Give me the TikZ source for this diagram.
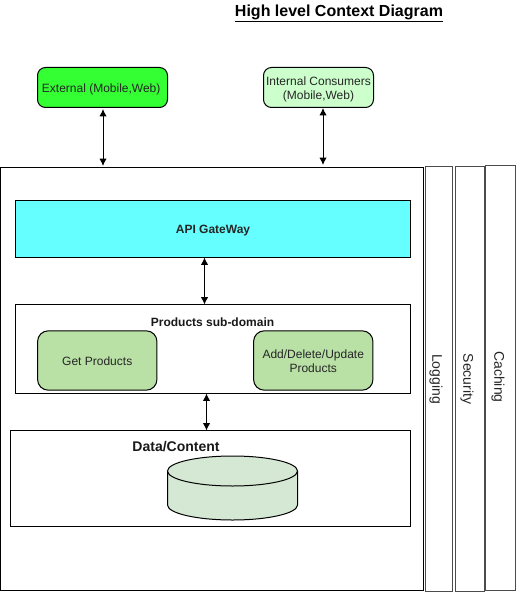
\documentclass[tikz,border=0pt]{standalone}
\usepackage{fontspec}
\setmainfont{Liberation Sans}
\usetikzlibrary{shapes,arrows.meta,positioning}
\definecolor{extgreen}{RGB}{51,255,51}
\definecolor{intgreen}{RGB}{204,255,204}
\definecolor{apicyan}{RGB}{102,255,255}
\definecolor{opsgreen}{RGB}{185,224,165}
\definecolor{dbgreen}{RGB}{213,232,212}
\tikzset{
    block/.style={rectangle, draw, line width=0.75pt, text=black!85, font=\fontsize{9}{10.5}\selectfont, align=center, inner sep=0pt, text height=9pt, text depth=2pt},
    twolines/.style={text height=19.5pt},
    client/.style={block, rounded corners=6pt, minimum height=30pt},
    service/.style={block, fill=opsgreen, rounded corners=8pt, minimum width=89.5pt, minimum height=44.5pt},
    area/.style={block, fill=white, minimum width=296.5pt},
    concern/.style={block, fill=white, draw=black!70, minimum height=319pt},
    sidelabel/.style={rotate=-90, text=black!85, font=\fontsize{10.5}{12}\selectfont},
    caption/.style={text=black!90, font=\fontsize{9}{11}\selectfont\bfseries},
    cylbody/.style={draw, line width=0.75pt, fill=dbgreen},
    line/.style={draw, line width=0.75pt, {Latex[length=5.5pt,width=5.5pt]}-{Latex[length=5.5pt,width=5.5pt]}}
}
\begin{document}
\begin{tikzpicture}[x=0.75pt, y=-0.75pt]
    \useasboundingbox (0,0) rectangle (516,599);

    % Title
    \node (title) at (339,13.5) {\fontsize{12}{14}\selectfont\textbf{\underline{High level Context Diagram}}};

    % Consumers
    \node[client, fill=extgreen, minimum width=97.5pt] (external) at (102.5,87.5) {External (Mobile,Web)\hspace{2pt}};
    \node[client, twolines, fill=intgreen, minimum width=82.5pt] (internal) at (318.5,87.5) {Internal Consumers\\(Mobile,Web)};

    % Outer container
    \node[block, fill=white, minimum width=317.25pt, minimum height=317.25pt] (platform) at (212,379) {};

    % API layer
    \node[area, fill=apicyan, minimum height=42.75pt, font=\fontsize{9}{11}\selectfont\bfseries] (gateway) at (213,229) {API GateWay};

    % Products
    \node[area, minimum height=67.1pt] (products) at (213,349.25) {};
    \node[caption] (productstitle) at (212.5,322) {Products sub-domain};
    \node[service] (getproducts) at (97.25,360.5) {Get Products};
    \node[service, twolines] (addproducts) at (313.25,360.5) {Add/Delete/Update\\Products};

    % Data
    \node[block, fill=white, minimum width=300pt, minimum height=72pt] (data) at (210.5,478.25) {};
    \node[caption, font=\fontsize{10.5}{12}\selectfont\bfseries] (datatitle) at (176,447) {Data/Content};

    % Store
    \coordinate (storetop) at (232.5,471);
    \draw[cylbody] (167.5,471) -- (167.5,505) arc[start angle=180, end angle=0, x radius=65, y radius=15] -- (297.5,471) -- cycle;
    \draw[cylbody] (storetop) ellipse[x radius=65, y radius=15];

    % Cross-cutting concerns
    \node[concern, minimum width=20.6pt] (logging) at (439.25,379.25) {};
    \node[concern, minimum width=22.1pt] (security) at (469.75,379) {};
    \node[concern, minimum width=22.5pt] (caching) at (500.5,378) {};
    \node[sidelabel] (logginglabel) at (436,379) {Logging};
    \node[sidelabel] (securitylabel) at (467,379) {Security};
    \node[sidelabel] (cachinglabel) at (498,377) {Caching};

    % Arrow ends
    \coordinate (exttop) at (103,109);
    \coordinate (extbottom) at (103,166);
    \coordinate (inttop) at (323,108);
    \coordinate (intbottom) at (323,165);
    \coordinate (gwtop) at (204.5,257.5);
    \coordinate (gwbottom) at (204.5,304.5);
    \coordinate (prodtop) at (206.5,393.5);
    \coordinate (prodbottom) at (206.5,430.5);

    % Connectors
    \draw[line] (exttop) -- (extbottom);
    \draw[line] (inttop) -- (intbottom);
    \draw[line] (gwtop) -- (gwbottom);
    \draw[line] (prodtop) -- (prodbottom);
\end{tikzpicture}
\end{document}
